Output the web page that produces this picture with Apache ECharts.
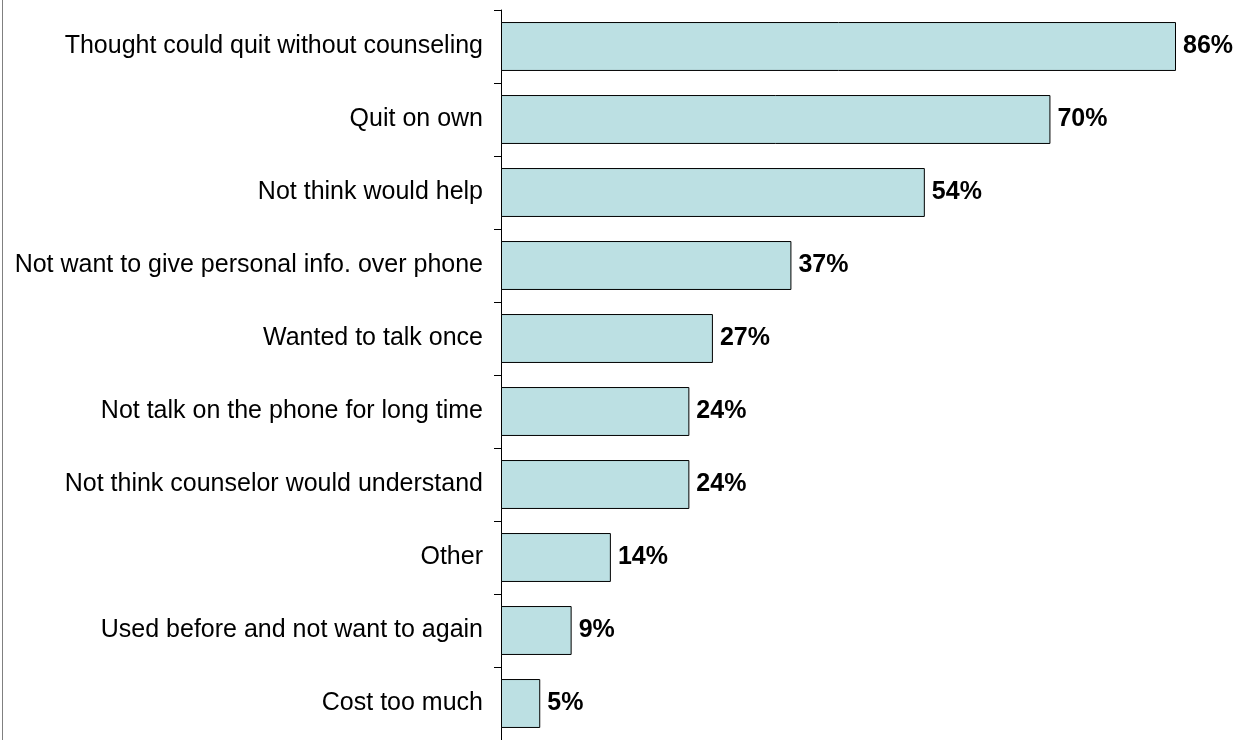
<!DOCTYPE html>
<html>
<head>
<meta charset="utf-8">
<script src="https://cdn.jsdelivr.net/npm/echarts@6/dist/echarts.min.js"></script>
<style>
  html, body { margin: 0; padding: 0; background: #ffffff; }
  #chart { width: 1247px; height: 740px; }
</style>
</head>
<body>
<div id="chart"></div>
<script>
// Reasons given for not using the quitline counseling
const categories = [
  'Thought could quit without counseling',
  'Quit on own',
  'Not think would help',
  'Not want to give personal info. over phone',
  'Wanted to talk once',
  'Not talk on the phone for long time',
  'Not think counselor would understand',
  'Other',
  'Used before and not want to again',
  'Cost too much'
];
const percentValues = [86, 70, 54, 37, 27, 24, 24, 14, 9, 5];

const chart = echarts.init(document.getElementById('chart'), null, { renderer: 'canvas' });

chart.setOption({
  animation: false,
  backgroundColor: '#ffffff',
  grid: { left: 501, right: 39.6, top: 10, bottom: -3, containLabel: false },
  xAxis: {
    type: 'value',
    min: 0,
    max: 90,
    show: false
  },
  yAxis: {
    type: 'category',
    data: categories,
    inverse: true,
    axisLine: { show: true, lineStyle: { color: '#000000', width: 1 } },
    axisTick: { show: true, length: 7, lineStyle: { color: '#000000', width: 1 } },
    axisLabel: {
      margin: 18,
      color: '#000000',
      fontFamily: 'Liberation Sans, Arial, sans-serif',
      fontSize: 25
    }
  },
  series: [{
    type: 'bar',
    data: percentValues,
    barCategoryGap: '33%',
    itemStyle: { color: '#BCE0E3', borderColor: '#000000', borderWidth: 1 },
    label: {
      show: true,
      position: 'right',
      distance: 7,
      formatter: '{c}%',
      color: '#000000',
      fontFamily: 'Liberation Sans, Arial, sans-serif',
      fontWeight: 'bold',
      fontSize: 25
    }
  }],
  graphic: [{
    type: 'line',
    shape: { x1: 2.5, y1: 0, x2: 2.5, y2: 740 },
    style: { stroke: '#808080', lineWidth: 1 }
  }]
});
</script>
</body>
</html>
